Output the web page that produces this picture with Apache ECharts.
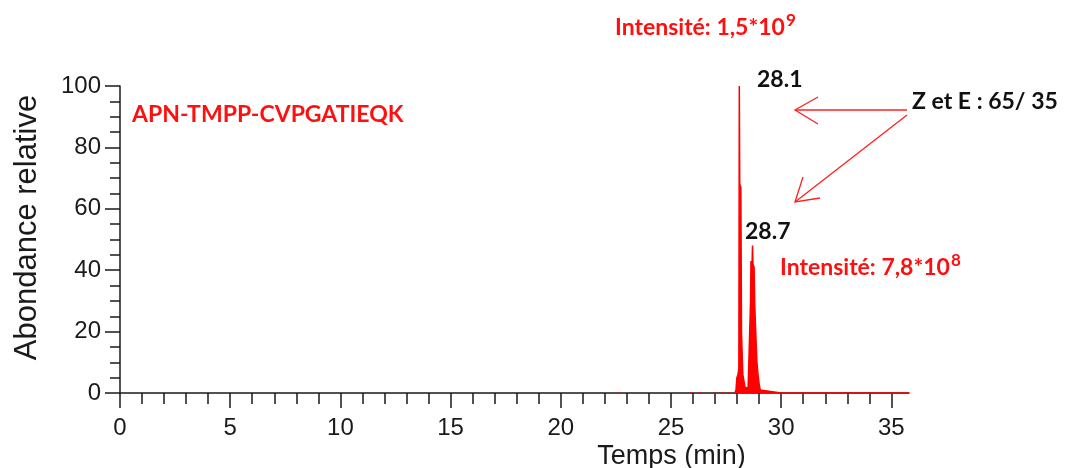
<!DOCTYPE html>
<html>
<head>
<meta charset="utf-8">
<script src="https://cdn.jsdelivr.net/npm/echarts@6/dist/echarts.min.js"></script>
<style>
html,body{margin:0;padding:0;background:#fff;}
#chart{width:1074px;height:468px;}
</style>
</head>
<body>
<div id="chart"></div>
<script>
// Retention time (min) and relative abundance (%)
const times = [22.55, 22.65, 22.7, 25.85, 25.95, 26.0, 26.25, 26.35, 26.4, 26.95, 27.05, 27.1, 27.25, 27.35, 27.4, 27.55, 27.7, 27.75,
  27.9, 27.95, 27.99, 28.04, 28.08, 28.10, 28.12, 28.17, 28.20, 28.22, 28.26, 28.31, 28.35, 28.40, 28.50, 28.57,
  28.61, 28.63, 28.68, 28.70, 28.72, 28.77, 28.80, 28.85, 28.90, 28.95, 29.00, 29.05, 29.10, 30, 32, 34, 35.8];
const abundance = [0, 0, null, 0, 0, null, 0, 0, null, 0, 0, null, 0, 0, null, 0, 0, null,
  0, 1, 5, 6, 8, 100, 68, 67, 20, 15, 6, 4, 2, 1.5, 1.5, 1,
  30, 43, 42, 48, 42, 41, 29, 19, 10, 6, 3, 1, 0.5, 0, 0, 0, 0];
const xMajorTicks = [0, 5, 10, 15, 20, 25, 30, 35];
const xMinorTicks = [0,1,2,3,4,5,6,7,8,9,10,11,12,13,14,15,16,17,18,19,20,21,22,23,24,25,26,27,28,29,30,31,32,33,34,35];
const peakLabels = ['28.1', '28.7'];
const sampleName = 'APN-TMPP-CVPGATIEQK';
const intensity1 = ['Intensité: 1,5*10', '9'];
const intensity2 = ['Intensité: 7,8*10', '8'];
const ratioText = 'Z et E : 65/ 35';

const seriesData = times.map((t, i) => abundance[i] === null ? [t, '-'] : [t, abundance[i]]);

const axisColor = '#1a1a1a';
const tickFont = 'Liberation Sans, Arial, sans-serif';
const annFont = 'Lato, Carlito, sans-serif';
const annSize = 23;

const chart = echarts.init(document.getElementById('chart'), null, {renderer: 'canvas'});
const option = {
  animation: false,
  backgroundColor: '#fff',
  grid: {left: 120, top: 86, right: 165, bottom: 75, containLabel: false, outerBoundsMode: 'none'},
  xAxis: [{
    type: 'value', min: 0, max: 35.8,
    name: 'Temps (min)', nameLocation: 'middle', nameGap: 50, nameMoveOverlap: false,
    nameTextStyle: {fontFamily: tickFont, fontSize: 27, color: axisColor, padding: [0, 0, 0, 314]},
    axisLine: {show: true, onZero: false, lineStyle: {color: axisColor, width: 1.5}},
    axisTick: {show: true, length: 15, customValues: xMajorTicks, lineStyle: {color: axisColor, width: 1.5}},
    axisLabel: {show: true, customValues: xMajorTicks, margin: 23, fontFamily: tickFont, fontSize: 24, color: axisColor},
    splitLine: {show: false}
  }, {
    type: 'value', min: 0, max: 35.8, position: 'bottom',
    axisLine: {show: false},
    axisTick: {show: true, length: 11, customValues: xMinorTicks, lineStyle: {color: axisColor, width: 1.5}},
    axisLabel: {show: false},
    splitLine: {show: false}
  }],
  yAxis: {
    type: 'value', min: 0, max: 100, interval: 20,
    name: 'Abondance relative', nameLocation: 'middle', nameGap: 77, nameMoveOverlap: false,
    nameTextStyle: {fontFamily: tickFont, fontSize: 31, color: axisColor, padding: [0, 0, 0, 24]},
    axisLine: {show: true, lineStyle: {color: axisColor, width: 1.5}},
    axisTick: {show: true, length: 15, lineStyle: {color: axisColor, width: 1.5}},
    minorTick: {show: true, splitNumber: 4, length: 10, lineStyle: {color: axisColor, width: 1.5}},
    axisLabel: {margin: 19, fontFamily: tickFont, fontSize: 24, color: axisColor},
    splitLine: {show: false}
  },
  series: [{
    type: 'line', xAxisIndex: 0, data: seriesData,
    showSymbol: false, connectNulls: false,
    lineStyle: {color: '#ff0000', width: 1.5},
    areaStyle: {color: '#ff0000', opacity: 1},
    itemStyle: {color: '#ff0000'}
  }],
  graphic: [
    {type: 'text', left: 132, top: 103, style: {text: sampleName, fill: '#ff1010', font: 'bold ' + annSize + 'px ' + annFont}},
    {type: 'text', left: 615, top: 12, style: {
      text: '{a|' + intensity1[0] + '}{s|' + intensity1[1] + '}', fill: '#ff1010',
      rich: {a: {font: 'bold ' + annSize + 'px ' + annFont, fill: '#ff1010'}, s: {font: 'bold 17px ' + annFont, fill: '#ff1010', padding: [0, 0, 15, 1]}}}},
    {type: 'text', left: 757, top: 68, style: {text: peakLabels[0], fill: '#111', font: 'bold ' + annSize + 'px ' + annFont}},
    {type: 'text', left: 745, top: 220, style: {text: peakLabels[1], fill: '#111', font: 'bold ' + annSize + 'px ' + annFont}},
    {type: 'text', left: 912, top: 90, style: {text: ratioText, fill: '#111', font: 'bold ' + annSize + 'px ' + annFont}},
    {type: 'text', left: 780, top: 252, style: {
      text: '{a|' + intensity2[0] + '}{s|' + intensity2[1] + '}', fill: '#ff1010',
      rich: {a: {font: 'bold ' + annSize + 'px ' + annFont, fill: '#ff1010'}, s: {font: 'bold 17px ' + annFont, fill: '#ff1010', padding: [0, 0, 15, 1]}}}},
    {type: 'polyline', shape: {points: [[907, 110], [795, 110]]}, style: {stroke: '#ff2020', lineWidth: 1.3, fill: null}},
    {type: 'polyline', shape: {points: [[818, 97], [795, 110], [818, 124]]}, style: {stroke: '#ff2020', lineWidth: 1.3, fill: null}},
    {type: 'polyline', shape: {points: [[907, 115], [795, 202]]}, style: {stroke: '#ff2020', lineWidth: 1.3, fill: null}},
    {type: 'polyline', shape: {points: [[803, 177], [795, 202], [820, 198]]}, style: {stroke: '#ff2020', lineWidth: 1.3, fill: null}}
  ]
};
chart.setOption(option);
</script>
</body>
</html>
